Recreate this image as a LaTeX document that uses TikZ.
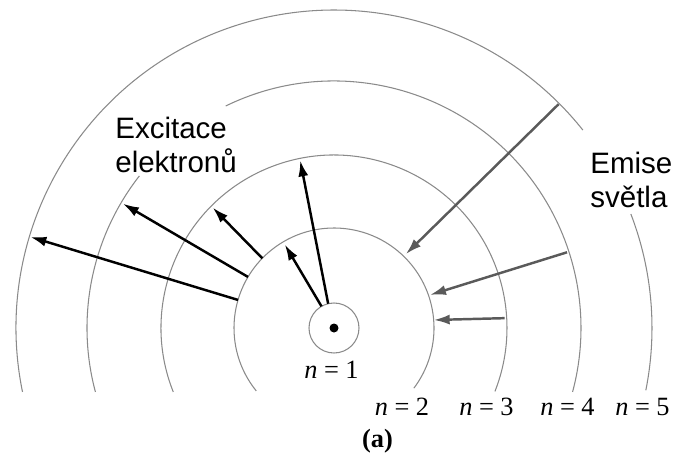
\documentclass[tikz,border=0pt]{standalone}
\usepackage{fontspec}
\setmainfont{Liberation Serif}
\newfontfamily\labelfont{Liberation Sans}
\usetikzlibrary{arrows.meta}
\usepackage{xcolor}
\definecolor{orbitgrey}{HTML}{8A8A8A}
\definecolor{emitgrey}{HTML}{5A5A5A}

\begin{document}
\begin{tikzpicture}[
  x=0.02cm, y=0.02cm,
  orbit/.style={draw=orbitgrey, line width=0.6pt},
  excite/.style={-{Latex[length=3.2mm, width=2mm]}, line width=1.4pt, draw=black},
  emit/.style={-{Latex[length=3.2mm, width=2mm]}, line width=1.4pt, draw=emitgrey},
  caption/.style={font=\labelfont\fontsize{16.8}{19.3}\selectfont,
    align=left, inner sep=0pt, anchor=north west},
  level/.style={font=\fontsize{15}{17}\selectfont, inner sep=0pt, anchor=base},
]
\useasboundingbox (-334,-132) rectangle (342,328);

% === Orbits n = 1 ... 5 ===
\draw[orbit] (0,0) circle[radius=25];
\fill (0,0) circle[radius=4.5];
\draw[orbit] (219:100) arc[start angle=219, end angle=-37, radius=100];
\draw[orbit] (201.7:173) arc[start angle=201.7, end angle=-21.5, radius=173];
\draw[orbit] (195:247) arc[start angle=195, end angle=142, radius=247];
\draw[orbit] (116:247) arc[start angle=116, end angle=-15, radius=247];
\draw[orbit] (191.6:318) arc[start angle=191.6, end angle=38.5, radius=318];
\draw[orbit] (21:318) arc[start angle=21, end angle=-11.3, radius=318];

% === End points of the transitions ===
\coordinate (ex12-from) at (120:25);
\coordinate (ex12-to) at (120.5:97);
\coordinate (ex13-from) at (103.5:25);
\coordinate (ex13-to) at (101.4:171);
\coordinate (ex23-from) at (135.8:100);
\coordinate (ex23-to) at (135.2:171);
\coordinate (ex24-from) at (149.3:100);
\coordinate (ex24-to) at (149.5:245);
\coordinate (ex25-from) at (163.7:100);
\coordinate (ex25-to) at (163.3:317);
\coordinate (em52-from) at (44.9:317);
\coordinate (em52-to) at (45.8:103);
\coordinate (em42-from) at (18:245);
\coordinate (em42-to) at (19:101.5);
\coordinate (em32-from) at (3.3:171);
\coordinate (em32-to) at (4.6:100);

% === Excitation (black) ===
\draw[excite] (ex12-from) -- (ex12-to);
\draw[excite] (ex13-from) -- (ex13-to);
\draw[excite] (ex23-from) -- (ex23-to);
\draw[excite] (ex24-from) -- (ex24-to);
\draw[excite] (ex25-from) -- (ex25-to);

% === Emission (grey) ===
\draw[emit] (em52-from) -- (em52-to);
\draw[emit] (em42-from) -- (em42-to);
\draw[emit] (em32-from) -- (em32-to);

% === Labels ===
\node[caption] (excitace) at (-219,211) {Excitace\\elektronů};
\node[caption] (emise) at (256,176) {Emise\\světla};
\node[level] (n1) at (-2.5,-50) {\textit{n}\hspace{0.25em}=\hspace{0.25em}1};
\node[level] (n2) at (68,-87) {\textit{n}\hspace{0.25em}=\hspace{0.25em}2};
\node[level] (n3) at (152.5,-87) {\textit{n}\hspace{0.25em}=\hspace{0.25em}3};
\node[level] (n4) at (233.5,-87) {\textit{n}\hspace{0.25em}=\hspace{0.25em}4};
\node[level] (n5) at (308.5,-87) {\textit{n}\hspace{0.25em}=\hspace{0.25em}5};
\node[level, font=\fontsize{15}{17}\selectfont\bfseries] (panel) at (43.5,-119) {(a)};
\end{tikzpicture}
\end{document}
